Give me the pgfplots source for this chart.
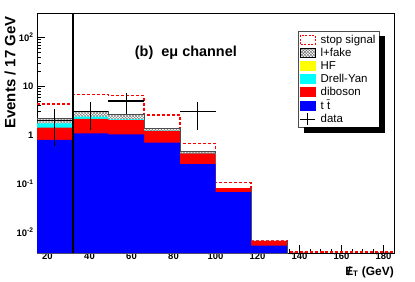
\documentclass[border=0pt]{standalone}
\usepackage{fontspec}
\setmainfont{Liberation Sans}
\usepackage{pgfplots}
\pgfplotsset{compat=1.18}
\usetikzlibrary{patterns}
\definecolor{rblue}{RGB}{0,0,255}
\definecolor{rred}{RGB}{255,0,0}
\definecolor{rcyan}{RGB}{0,255,255}
\definecolor{ryellow}{RGB}{255,255,0}
\begin{document}
\begin{tikzpicture}[x=1bp,y=1bp]
\path[use as bounding box] (0,0) rectangle (415,282);
\begin{axis}[
  at={(37bp,29bp)}, anchor=south west,
  scale only axis, width=357bp, height=240bp,
  xmin=15, xmax=185, ymode=log, ymin=0.0038, ymax=318,
  log origin y=infty,
  axis line style={line width=0.8bp},
  tick align=inside, xtick pos=bottom, ytick pos=left,
  xtick={20,40,...,180}, minor x tick num=3,
  ytick={0.01,0.1,1,10,100},
  yticklabels={10\textsuperscript{-2},10\textsuperscript{-1},1,10,10\textsuperscript{2}},
  major tick length=8bp, minor tick length=4bp,
  tick style={black, line width=0.6bp},
  /pgf/number format/assume math mode=true,
  ticklabel style={font=\fontsize{9.5}{11}\selectfont\bfseries},
  xticklabel style={yshift=1.5bp, inner sep=1bp},
  legend cell align=left,
  legend style={name=leg, at={(0.731,0.925)}, anchor=north west, draw=black!70, line width=0.6bp, fill=white,
    font=\fontsize{11.5}{12.5}\selectfont, inner sep=1.5bp, row sep=-0.6bp, column sep=0bp},
]
% signal
\addplot[const plot, rred, line width=1.6bp, dash pattern=on 3bp off 2bp, forget plot] coordinates {
 (15,4.3) (32,6.8) (49,6.4) (66,2.57) (83,0.675) (100,0.107) (117,0.0069) (134,0.00403) (151,0.00403) (168,0.00403) (185,0.00403)};
% l+fake (cumulative)
\addplot[const plot, fill=white, draw=none, forget plot] coordinates {
 (15,2.2) (32,3.1) (49,2.66) (66,1.37) (83,0.455) (100,0.081) (117,0.0067) (134,0.0067)} \closedcycle;
\addplot[const plot, pattern=crosshatch, pattern color=black!55, draw=black!70, line width=0.6bp, forget plot] coordinates {
 (15,2.2) (32,3.1) (49,2.66) (66,1.37) (83,0.455) (100,0.081) (117,0.0067) (134,0.0067)} \closedcycle;
% Drell-Yan (cumulative)
\addplot[const plot, fill=rcyan, draw=none, forget plot] coordinates {
 (15,1.74) (32,2.37) (49,2.1) (66,1.23) (83,0.425) (100,0.081) (117,0.0067) (134,0.0067)} \closedcycle;
% diboson (cumulative)
\addplot[const plot, fill=rred, draw=none, forget plot] coordinates {
 (15,1.41) (32,2.13) (49,2.03) (66,1.21) (83,0.42) (100,0.081) (117,0.0067) (134,0.0067)} \closedcycle;
% ttbar
\addplot[const plot, fill=rblue, draw=none, forget plot] coordinates {
 (15,0.79) (32,1.08) (49,1.03) (66,0.70) (83,0.254) (100,0.067) (117,0.0054) (134,0.0054)} \closedcycle;
% data
\addplot[mark=none, draw=none, forget plot,
  error bars/.cd, x dir=both, x explicit, y dir=both, y explicit,
  error mark=none, error bar style={draw=black, line width=1.2bp}]
 coordinates {
 (23.5,2) +- (8.5,1.41)
 (40.5,3) +- (8.5,1.73)
 (57.5,5) +- (8.5,2.24)
 (91.5,3) +- (8.5,1.73)};
% cut line
\addplot[black, line width=2bp, forget plot] coordinates {(32,0.0038) (32,318)};
% legend
\addlegendimage{legend image code/.code={\draw[rred, dash pattern=on 2bp off 1.5bp, line width=1.2bp, fill=white] (0bp,-4.5bp) rectangle (15bp,4.5bp); \path (18bp,0bp);}}
\addlegendentry{stop signal}
\addlegendimage{legend image code/.code={\fill[pattern=crosshatch, pattern color=black!60] (0bp,-4.5bp) rectangle (15bp,4.5bp); \path (18bp,0bp);}}
\addlegendentry{l+fake}
\addlegendimage{legend image code/.code={\fill[ryellow] (0bp,-4.5bp) rectangle (15bp,4.5bp); \path (18bp,0bp);}}
\addlegendentry{HF}
\addlegendimage{legend image code/.code={\fill[rcyan] (0bp,-4.5bp) rectangle (15bp,4.5bp); \path (18bp,0bp);}}
\addlegendentry{Drell-Yan}
\addlegendimage{legend image code/.code={\fill[rred] (0bp,-4.5bp) rectangle (15bp,4.5bp); \path (18bp,0bp);}}
\addlegendentry{diboson}
\addlegendimage{legend image code/.code={\fill[rblue] (0bp,-4.5bp) rectangle (15bp,4.5bp); \path (18bp,0bp);}}
\addlegendentry{t \={t}}
\addlegendimage{legend image code/.code={\draw[black, line width=0.9bp] (0bp,0bp) -- (15bp,0bp) (7.5bp,-6bp) -- (7.5bp,6bp); \path (18bp,0bp);}}
\addlegendentry{data}
\node[font=\fontsize{14.5}{16}\selectfont\bfseries] at (rel axis cs:0.417,0.833) {(b)\ \ eμ channel};
\end{axis}
\fill[black] ([shift={(-0.5bp,-5bp)}]leg.north east) rectangle ([shift={(6bp,-5bp)}]leg.south east);
\fill[black] ([shift={(6bp,0.5bp)}]leg.south west) rectangle ([shift={(6bp,-5bp)}]leg.south east);
\node[rotate=90, anchor=east, font=\fontsize{15}{17}\selectfont\bfseries] at (10,269) {Events / 17 GeV};
\node[anchor=east, inner sep=1bp, font=\fontsize{12}{13}\selectfont\bfseries] at (395,10) {\ooalign{E\cr\hidewidth/\hidewidth}\textsubscript{T} (GeV)};
\end{tikzpicture}
\end{document}
